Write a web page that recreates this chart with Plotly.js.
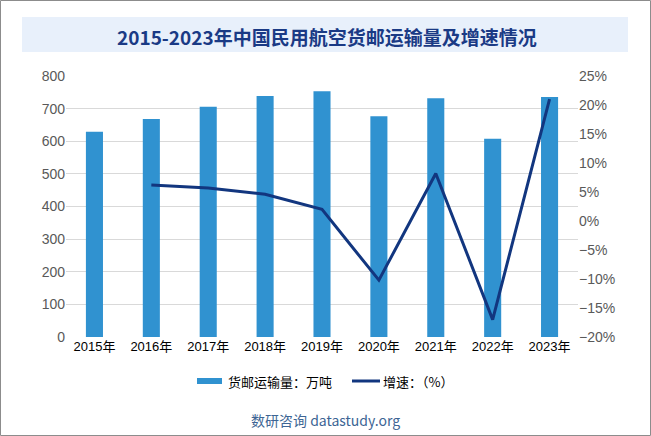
<!DOCTYPE html>
<html><head><meta charset="utf-8">
<script src="https://cdn.plot.ly/plotly-3.0.1.min.js"></script>
<style>body{margin:0;padding:0;background:#fff}#chart{width:651px;height:436px}</style>
</head><body><div id="chart"></div>
<script>
const years = ['2015年','2016年','2017年','2018年','2019年','2020年','2021年','2022年','2023年'];
const volume = [629.3, 668.0, 705.9, 738.5, 753.1, 676.6, 731.8, 607.6, 735.4];
const growth = [null, 0.062, 0.057, 0.046, 0.020, -0.102, 0.082, -0.170, 0.210];
const seriesNames = ['货邮运输量：万吨', '增速：（%）'];
const titleText = '2015-2023年中国民用航空货邮运输量及增速情况';
const sourceText = '数研咨询 datastudy.org';

const barColor = '#3092d0', lineColor = '#12367f';
const W = 651, H = 436, L = 66, R = 73, T = 76, B = 99;
const pw = W - L - R, ph = H - T - B;
const px = x => (x - L) / pw;
const py = y => (H - B - y) / ph;

const traces = [
  {type:'bar', x:years, y:volume, name:seriesNames[0], marker:{color:barColor}, width:0.3, showlegend:false},
  {type:'scatter', mode:'lines', x:years, y:growth, name:seriesNames[1], yaxis:'y2',
   line:{color:lineColor, width:3}, connectgaps:false, showlegend:false}
];

const legFont = {size:13, color:'#000', family:'"Noto Sans CJK SC", sans-serif'};
const layout = {
  width:W, height:H,
  margin:{l:L, r:R, t:T, b:B},
  paper_bgcolor:'#fff', plot_bgcolor:'#fff',
  font:{family:'"Noto Sans CJK SC", "Liberation Sans", Arial, sans-serif', size:13, color:'#595959'},
  showlegend:false,
  xaxis:{type:'category', showgrid:false, zeroline:false, showline:false, ticks:'',
         tickfont:{size:13, color:'#000', family:'"Liberation Sans", Arial, "Noto Sans CJK SC", sans-serif'}},
  yaxis:{range:[0,800], dtick:100, showgrid:true, gridcolor:'#d9d9d9', gridwidth:1, zeroline:false,
         showline:false, ticks:'', tickfont:{size:14, color:'#595959', family:'"Liberation Sans", Arial, sans-serif'}},
  yaxis2:{range:[-0.2,0.25], dtick:0.05, tickformat:'.0%', overlaying:'y', side:'right',
          showgrid:false, zeroline:false, showline:false, ticks:'',
          tickfont:{size:14, color:'#595959', family:'"Liberation Sans", Arial, sans-serif'}},
  shapes:[
    {type:'rect', xref:'paper', yref:'paper', x0:px(22), x1:px(628), y0:py(52), y1:py(17),
     fillcolor:'#e8f0fb', line:{width:0}, layer:'below'},
    {type:'rect', xref:'paper', yref:'paper', x0:px(0.5), x1:px(650.5), y0:py(435.5), y1:py(0.5),
     fillcolor:'rgba(0,0,0,0)', line:{color:'#8c8c8c', width:1}},
    {type:'rect', xref:'paper', yref:'paper', x0:px(197), x1:px(222), y0:py(384), y1:py(378),
     fillcolor:barColor, line:{width:0}},
    {type:'line', xref:'paper', yref:'paper', x0:px(352), x1:px(380), y0:py(381), y1:py(381),
     line:{color:lineColor, width:3}}
  ],
  annotations:[
    {text:titleText, xref:'paper', yref:'paper', x:px(327), y:py(36), xanchor:'center', yanchor:'middle',
     showarrow:false, font:{size:19, color:'#1a3a85', family:'"Noto Sans CJK SC", sans-serif', weight:'bold'}},
    {text:seriesNames[0], xref:'paper', yref:'paper', x:px(226), y:py(381), xanchor:'left', yanchor:'middle',
     showarrow:false, font:legFont},
    {text:seriesNames[1], xref:'paper', yref:'paper', x:px(381), y:py(381), xanchor:'left', yanchor:'middle',
     showarrow:false, font:legFont},
    {text:sourceText, xref:'paper', yref:'paper', x:px(325), y:py(420), xanchor:'center', yanchor:'middle',
     showarrow:false, font:{size:14, color:'#3d6594', family:'"Noto Sans CJK SC", "Liberation Sans", sans-serif'}}
  ]
};

Plotly.newPlot('chart', traces, layout, {displayModeBar:false, staticPlot:true});
</script></body></html>
